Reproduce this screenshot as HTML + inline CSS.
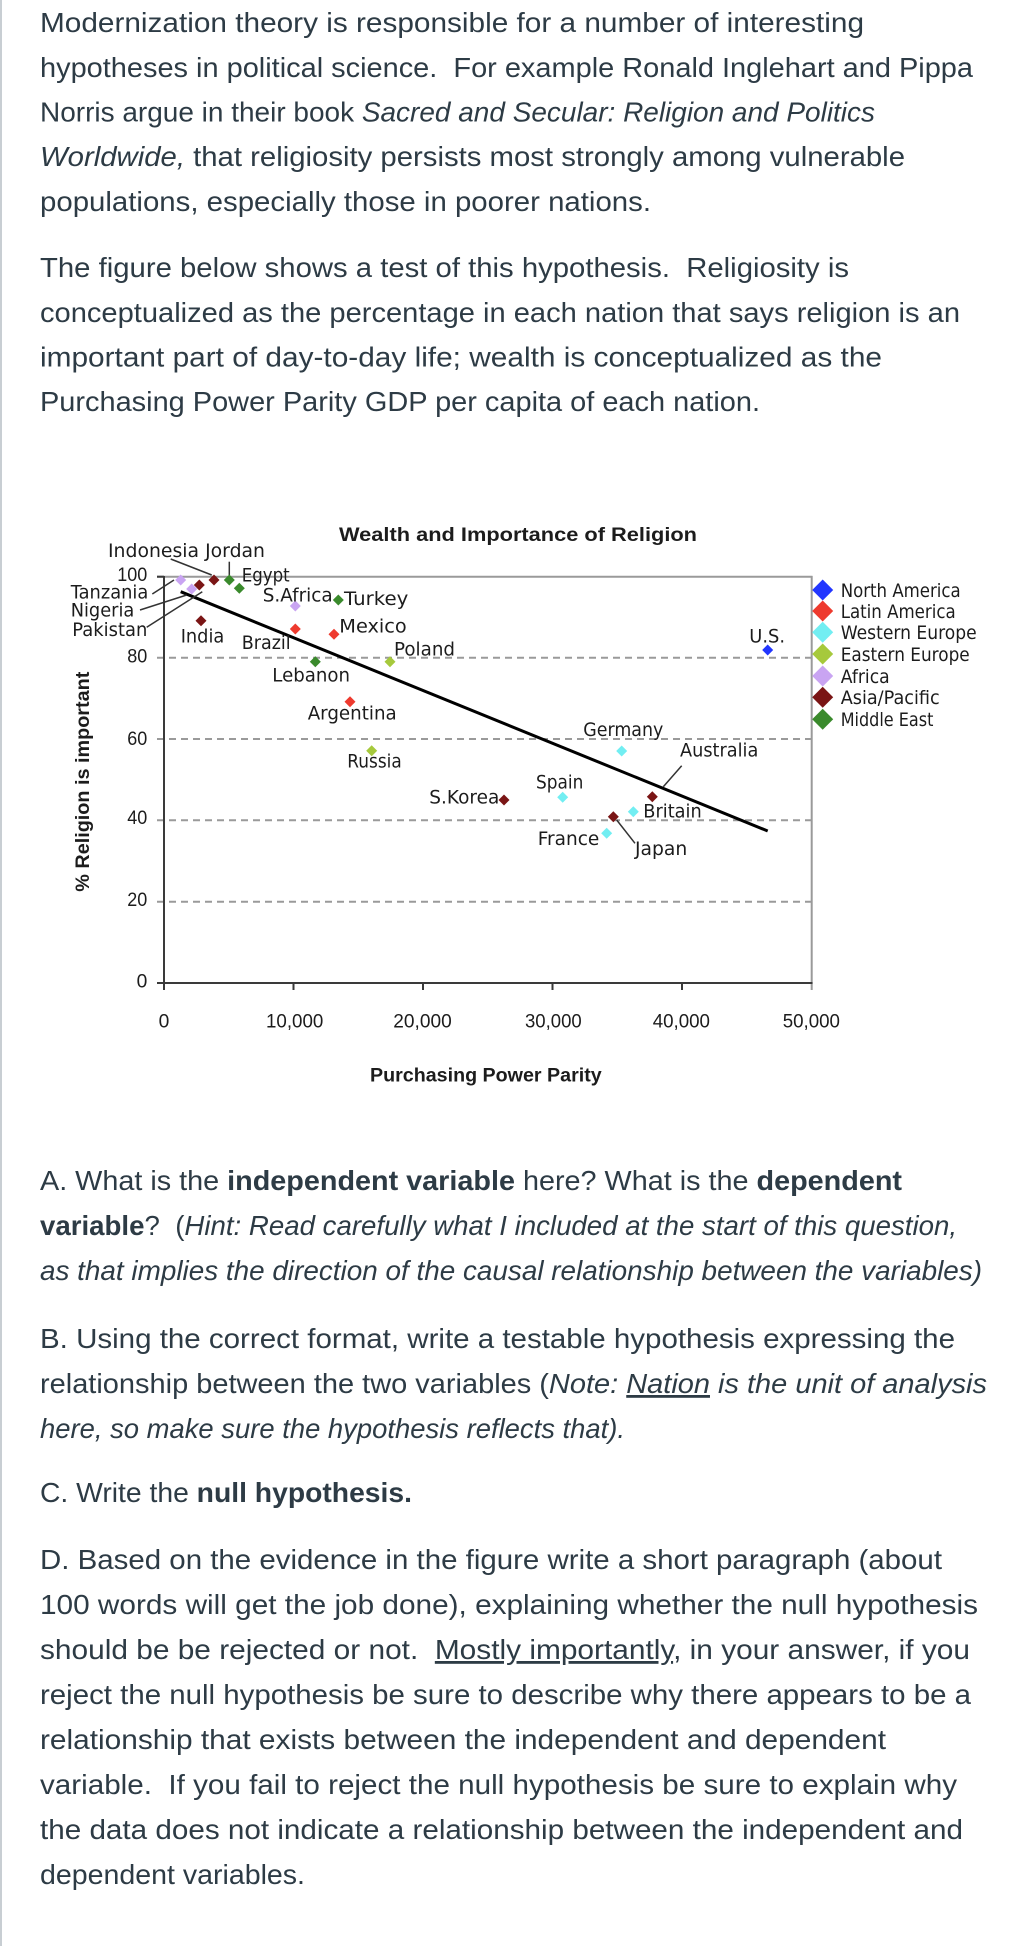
<!DOCTYPE html>
<html>
<head>
<meta charset="utf-8">
<style>
  html, body { margin:0; padding:0; background:#fff; }
  svg { display:block; }
  .body { font-family:"Liberation Sans", sans-serif; font-size:28px; fill:#2d3b45; }
  .lbl { font-family:"DejaVu Sans", "Liberation Sans", sans-serif; font-size:19px; fill:#1c1c1c; }
  .tick { font-family:"Liberation Sans", sans-serif; font-size:19px; fill:#1c1c1c; }
  .bold { font-family:"Liberation Sans", sans-serif; font-size:19px; font-weight:bold; fill:#1c1c1c; }
  .b { font-weight:bold; }
  .i { font-style:italic; }
  .u { text-decoration:underline; }
</style>
</head>
<body>
<svg width="1024" height="1946" viewBox="0 0 1024 1946" xmlns="http://www.w3.org/2000/svg">
  <rect x="0" y="0" width="1024" height="1946" fill="#fff"/>
  <rect x="0" y="0" width="2" height="1946" fill="#c8ced3"/>

  <!-- Top paragraph -->
  <text class="body" x="40" y="32" textLength="824" lengthAdjust="spacingAndGlyphs">Modernization theory is responsible for a number of interesting</text>
  <text class="body" x="40" y="77" textLength="933" lengthAdjust="spacingAndGlyphs" xml:space="preserve">hypotheses in political science.  For example Ronald Inglehart and Pippa</text>
  <text class="body" x="40" y="121.5" textLength="835" lengthAdjust="spacingAndGlyphs">Norris argue in their book <tspan class="i">Sacred and Secular: Religion and Politics</tspan></text>
  <text class="body" x="40" y="166" textLength="865" lengthAdjust="spacingAndGlyphs"><tspan class="i">Worldwide,</tspan> that religiosity persists most strongly among vulnerable</text>
  <text class="body" x="40" y="211" textLength="611" lengthAdjust="spacingAndGlyphs">populations, especially those in poorer nations.</text>

  <text class="body" x="40" y="277" textLength="809" lengthAdjust="spacingAndGlyphs" xml:space="preserve">The figure below shows a test of this hypothesis.  Religiosity is</text>
  <text class="body" x="40" y="322" textLength="920" lengthAdjust="spacingAndGlyphs">conceptualized as the percentage in each nation that says religion is an</text>
  <text class="body" x="40" y="366.5" textLength="842" lengthAdjust="spacingAndGlyphs">important part of day-to-day life; wealth is conceptualized as the</text>
  <text class="body" x="40" y="411" textLength="720" lengthAdjust="spacingAndGlyphs">Purchasing Power Parity GDP per capita of each nation.</text>

  <!-- Chart -->
  <g>
    <g stroke="#9a9a9a" stroke-width="2" stroke-dasharray="7 5">
      <line x1="157" y1="657.7" x2="811" y2="657.7"/>
      <line x1="157" y1="739" x2="811" y2="739"/>
      <line x1="157" y1="820.3" x2="811" y2="820.3"/>
      <line x1="157" y1="901.7" x2="811" y2="901.7"/>
    </g>
    <line x1="157" y1="576.7" x2="812.5" y2="576.7" stroke="#9a9a9a" stroke-width="2"/>
    <line x1="811.7" y1="576" x2="811.7" y2="990" stroke="#9a9a9a" stroke-width="2"/>
    <line x1="164" y1="576" x2="164" y2="990" stroke="#3a3a3a" stroke-width="2"/>
    <line x1="157" y1="983" x2="812.5" y2="983" stroke="#3a3a3a" stroke-width="2"/>
    <g stroke="#3a3a3a" stroke-width="2">
      <line x1="293.5" y1="983" x2="293.5" y2="990"/>
      <line x1="423" y1="983" x2="423" y2="990"/>
      <line x1="552.5" y1="983" x2="552.5" y2="990"/>
      <line x1="682" y1="983" x2="682" y2="990"/>
      <line x1="157" y1="576.7" x2="164" y2="576.7"/>
    </g>

    <text class="bold" x="339" y="541" textLength="358" lengthAdjust="spacingAndGlyphs">Wealth and Importance of Religion</text>

    <text class="tick" x="117.3" y="581" textLength="30" lengthAdjust="spacingAndGlyphs">100</text>
    <text class="tick" x="127.3" y="662.7" textLength="20" lengthAdjust="spacingAndGlyphs">80</text>
    <text class="tick" x="127.3" y="745" textLength="20" lengthAdjust="spacingAndGlyphs">60</text>
    <text class="tick" x="127.3" y="824" textLength="20" lengthAdjust="spacingAndGlyphs">40</text>
    <text class="tick" x="127.3" y="906" textLength="20" lengthAdjust="spacingAndGlyphs">20</text>
    <text class="tick" x="136.7" y="987.3" textLength="10.7" lengthAdjust="spacingAndGlyphs">0</text>

    <text class="tick" x="158.7" y="1027.3" textLength="10.7" lengthAdjust="spacingAndGlyphs">0</text>
    <text class="tick" x="266" y="1027.3" textLength="57.3" lengthAdjust="spacingAndGlyphs">10,000</text>
    <text class="tick" x="393.3" y="1027.3" textLength="58.4" lengthAdjust="spacingAndGlyphs">20,000</text>
    <text class="tick" x="525" y="1027.3" textLength="56.7" lengthAdjust="spacingAndGlyphs">30,000</text>
    <text class="tick" x="652.7" y="1027.3" textLength="57.3" lengthAdjust="spacingAndGlyphs">40,000</text>
    <text class="tick" x="782.7" y="1027.3" textLength="57.3" lengthAdjust="spacingAndGlyphs">50,000</text>

    <text class="bold" x="370" y="1081.7" textLength="231.7" lengthAdjust="spacingAndGlyphs">Purchasing Power Parity</text>
    <text class="bold" transform="translate(89,891.7) rotate(-90)" x="0" y="0" textLength="220" lengthAdjust="spacingAndGlyphs">% Religion is important</text>

    <line x1="180.7" y1="591.7" x2="767.7" y2="831" stroke="#000" stroke-width="3"/>

    <g stroke="#333" stroke-width="1.5" fill="none">
      <line x1="170.7" y1="559" x2="211.7" y2="575"/>
      <line x1="229.3" y1="561.7" x2="229.3" y2="576"/>
      <line x1="152.3" y1="594" x2="174" y2="580"/>
      <line x1="140" y1="610" x2="186.7" y2="595"/>
      <line x1="146.7" y1="627.3" x2="202.3" y2="591.7"/>
      <line x1="681.7" y1="765.7" x2="663.3" y2="786.7"/>
      <line x1="616.7" y1="820" x2="635" y2="843.3"/>
    </g>

    <defs>
      <path id="d" d="M0,-5.5 L5.5,0 L0,5.5 L-5.5,0 Z"/>
      <path id="D" d="M0,-10.5 L10.5,0 L0,10.5 L-10.5,0 Z"/>
    </defs>
    <g>
      <use href="#d" x="180.7" y="580" fill="#c9a4f2"/>
      <use href="#d" x="191.7" y="589" fill="#c9a4f2"/>
      <use href="#d" x="199.3" y="585" fill="#7a1515"/>
      <use href="#d" x="214" y="580" fill="#7a1515"/>
      <use href="#d" x="229.3" y="580" fill="#3a8a2c"/>
      <use href="#d" x="239.3" y="588.3" fill="#3a8a2c"/>
      <use href="#d" x="295.3" y="606" fill="#c9a4f2"/>
      <use href="#d" x="338.3" y="600" fill="#3a8a2c"/>
      <use href="#d" x="201" y="620.7" fill="#7a1515"/>
      <use href="#d" x="295.3" y="629" fill="#ee3a2e"/>
      <use href="#d" x="334" y="634.3" fill="#ee3a2e"/>
      <use href="#d" x="315.3" y="661.7" fill="#3a8a2c"/>
      <use href="#d" x="390" y="661.7" fill="#a6c93c"/>
      <use href="#d" x="350" y="701.7" fill="#ee3a2e"/>
      <use href="#d" x="371.7" y="750.7" fill="#a6c93c"/>
      <use href="#d" x="504" y="800" fill="#7a1515"/>
      <use href="#d" x="562.7" y="797.3" fill="#72eef2"/>
      <use href="#d" x="621.7" y="751" fill="#72eef2"/>
      <use href="#d" x="652.3" y="796.7" fill="#7a1515"/>
      <use href="#d" x="633.3" y="811.7" fill="#72eef2"/>
      <use href="#d" x="613.3" y="816.7" fill="#7a1515"/>
      <use href="#d" x="606.7" y="833.3" fill="#72eef2"/>
      <use href="#d" x="767.7" y="650" fill="#2236ff"/>
    </g>

    <text class="lbl" x="108" y="557" textLength="157" lengthAdjust="spacingAndGlyphs">Indonesia Jordan</text>
    <text class="lbl" x="241.7" y="581.7" textLength="48" lengthAdjust="spacingAndGlyphs">Egypt</text>
    <text class="lbl" x="70.7" y="598.3" textLength="77.6" lengthAdjust="spacingAndGlyphs">Tanzania</text>
    <text class="lbl" x="70.7" y="616.7" textLength="63.6" lengthAdjust="spacingAndGlyphs">Nigeria</text>
    <text class="lbl" x="72.3" y="636" textLength="75" lengthAdjust="spacingAndGlyphs">Pakistan</text>
    <text class="lbl" x="262.7" y="601.7" textLength="70" lengthAdjust="spacingAndGlyphs">S.Africa</text>
    <text class="lbl" x="344" y="605" textLength="64.3" lengthAdjust="spacingAndGlyphs">Turkey</text>
    <text class="lbl" x="180.7" y="642.7" textLength="43.6" lengthAdjust="spacingAndGlyphs">India</text>
    <text class="lbl" x="241.7" y="649" textLength="49" lengthAdjust="spacingAndGlyphs">Brazil</text>
    <text class="lbl" x="339.3" y="632.7" textLength="67.4" lengthAdjust="spacingAndGlyphs">Mexico</text>
    <text class="lbl" x="394" y="655.7" textLength="61" lengthAdjust="spacingAndGlyphs">Poland</text>
    <text class="lbl" x="272.3" y="681.7" textLength="77.7" lengthAdjust="spacingAndGlyphs">Lebanon</text>
    <text class="lbl" x="307.7" y="719.3" textLength="89" lengthAdjust="spacingAndGlyphs">Argentina</text>
    <text class="lbl" x="347.3" y="767.3" textLength="54.4" lengthAdjust="spacingAndGlyphs">Russia</text>
    <text class="lbl" x="429.3" y="803.3" textLength="70" lengthAdjust="spacingAndGlyphs">S.Korea</text>
    <text class="lbl" x="536" y="788.3" textLength="47.3" lengthAdjust="spacingAndGlyphs">Spain</text>
    <text class="lbl" x="583.3" y="736" textLength="80" lengthAdjust="spacingAndGlyphs">Germany</text>
    <text class="lbl" x="680" y="756.7" textLength="78.3" lengthAdjust="spacingAndGlyphs">Australia</text>
    <text class="lbl" x="643.3" y="817.7" textLength="58.4" lengthAdjust="spacingAndGlyphs">Britain</text>
    <text class="lbl" x="537.7" y="845" textLength="61.6" lengthAdjust="spacingAndGlyphs">France</text>
    <text class="lbl" x="635" y="855" textLength="52.3" lengthAdjust="spacingAndGlyphs">Japan</text>
    <text class="lbl" x="749.3" y="642.7" textLength="35.7" lengthAdjust="spacingAndGlyphs">U.S.</text>

    <use href="#D" x="822.7" y="590" fill="#2236ff"/>
    <use href="#D" x="822.7" y="611" fill="#ee3a2e"/>
    <use href="#D" x="822.7" y="632.3" fill="#72eef2"/>
    <use href="#D" x="822.7" y="654" fill="#a6c93c"/>
    <use href="#D" x="822.7" y="676" fill="#c9a4f2"/>
    <use href="#D" x="822.7" y="697.3" fill="#7a1515"/>
    <use href="#D" x="822.7" y="719.3" fill="#3a8a2c"/>
    <text class="lbl" x="840.7" y="597" textLength="120" lengthAdjust="spacingAndGlyphs">North America</text>
    <text class="lbl" x="840.7" y="618" textLength="115" lengthAdjust="spacingAndGlyphs">Latin America</text>
    <text class="lbl" x="840.7" y="639" textLength="136" lengthAdjust="spacingAndGlyphs">Western Europe</text>
    <text class="lbl" x="840.7" y="661" textLength="129" lengthAdjust="spacingAndGlyphs">Eastern Europe</text>
    <text class="lbl" x="840.7" y="683" textLength="49" lengthAdjust="spacingAndGlyphs">Africa</text>
    <text class="lbl" x="840.7" y="704" textLength="99" lengthAdjust="spacingAndGlyphs">Asia/Pacific</text>
    <text class="lbl" x="840.7" y="726" textLength="92.7" lengthAdjust="spacingAndGlyphs">Middle East</text>
  </g>

  <!-- Questions -->
  <text class="body" x="40" y="1190" textLength="862" lengthAdjust="spacingAndGlyphs">A. What is the <tspan class="b">independent variable</tspan> here? What is the <tspan class="b">dependent</tspan></text>
  <text class="body" x="40" y="1235" textLength="917" lengthAdjust="spacingAndGlyphs" xml:space="preserve"><tspan class="b">variable</tspan>?  (<tspan class="i">Hint: Read carefully what I included at the start of this question,</tspan></text>
  <text class="body" x="40" y="1280" textLength="942" lengthAdjust="spacingAndGlyphs"><tspan class="i">as that implies the direction of the causal relationship between the variables)</tspan></text>

  <text class="body" x="40" y="1348" textLength="915" lengthAdjust="spacingAndGlyphs">B. Using the correct format, write a testable hypothesis expressing the</text>
  <text class="body" x="40" y="1393" textLength="947" lengthAdjust="spacingAndGlyphs">relationship between the two variables (<tspan class="i">Note: <tspan class="u">Nation</tspan> is the unit of analysis</tspan></text>
  <text class="body" x="40" y="1438" textLength="585" lengthAdjust="spacingAndGlyphs"><tspan class="i">here, so make sure the hypothesis reflects that).</tspan></text>

  <text class="body" x="40" y="1502" textLength="372" lengthAdjust="spacingAndGlyphs">C. Write the <tspan class="b">null hypothesis.</tspan></text>

  <text class="body" x="40" y="1569" textLength="902" lengthAdjust="spacingAndGlyphs">D. Based on the evidence in the figure write a short paragraph (about</text>
  <text class="body" x="40" y="1614" textLength="938" lengthAdjust="spacingAndGlyphs">100 words will get the job done), explaining whether the null hypothesis</text>
  <text class="body" x="40" y="1659" textLength="930" lengthAdjust="spacingAndGlyphs" xml:space="preserve">should be be rejected or not.  <tspan class="u">Mostly importantly</tspan>, in your answer, if you</text>
  <text class="body" x="40" y="1704" textLength="931" lengthAdjust="spacingAndGlyphs">reject the null hypothesis be sure to describe why there appears to be a</text>
  <text class="body" x="40" y="1749" textLength="846" lengthAdjust="spacingAndGlyphs">relationship that exists between the independent and dependent</text>
  <text class="body" x="40" y="1794" textLength="917" lengthAdjust="spacingAndGlyphs" xml:space="preserve">variable.  If you fail to reject the null hypothesis be sure to explain why</text>
  <text class="body" x="40" y="1839" textLength="923" lengthAdjust="spacingAndGlyphs">the data does not indicate a relationship between the independent and</text>
  <text class="body" x="40" y="1884" textLength="265" lengthAdjust="spacingAndGlyphs">dependent variables.</text>
</svg>
</body>
</html>
